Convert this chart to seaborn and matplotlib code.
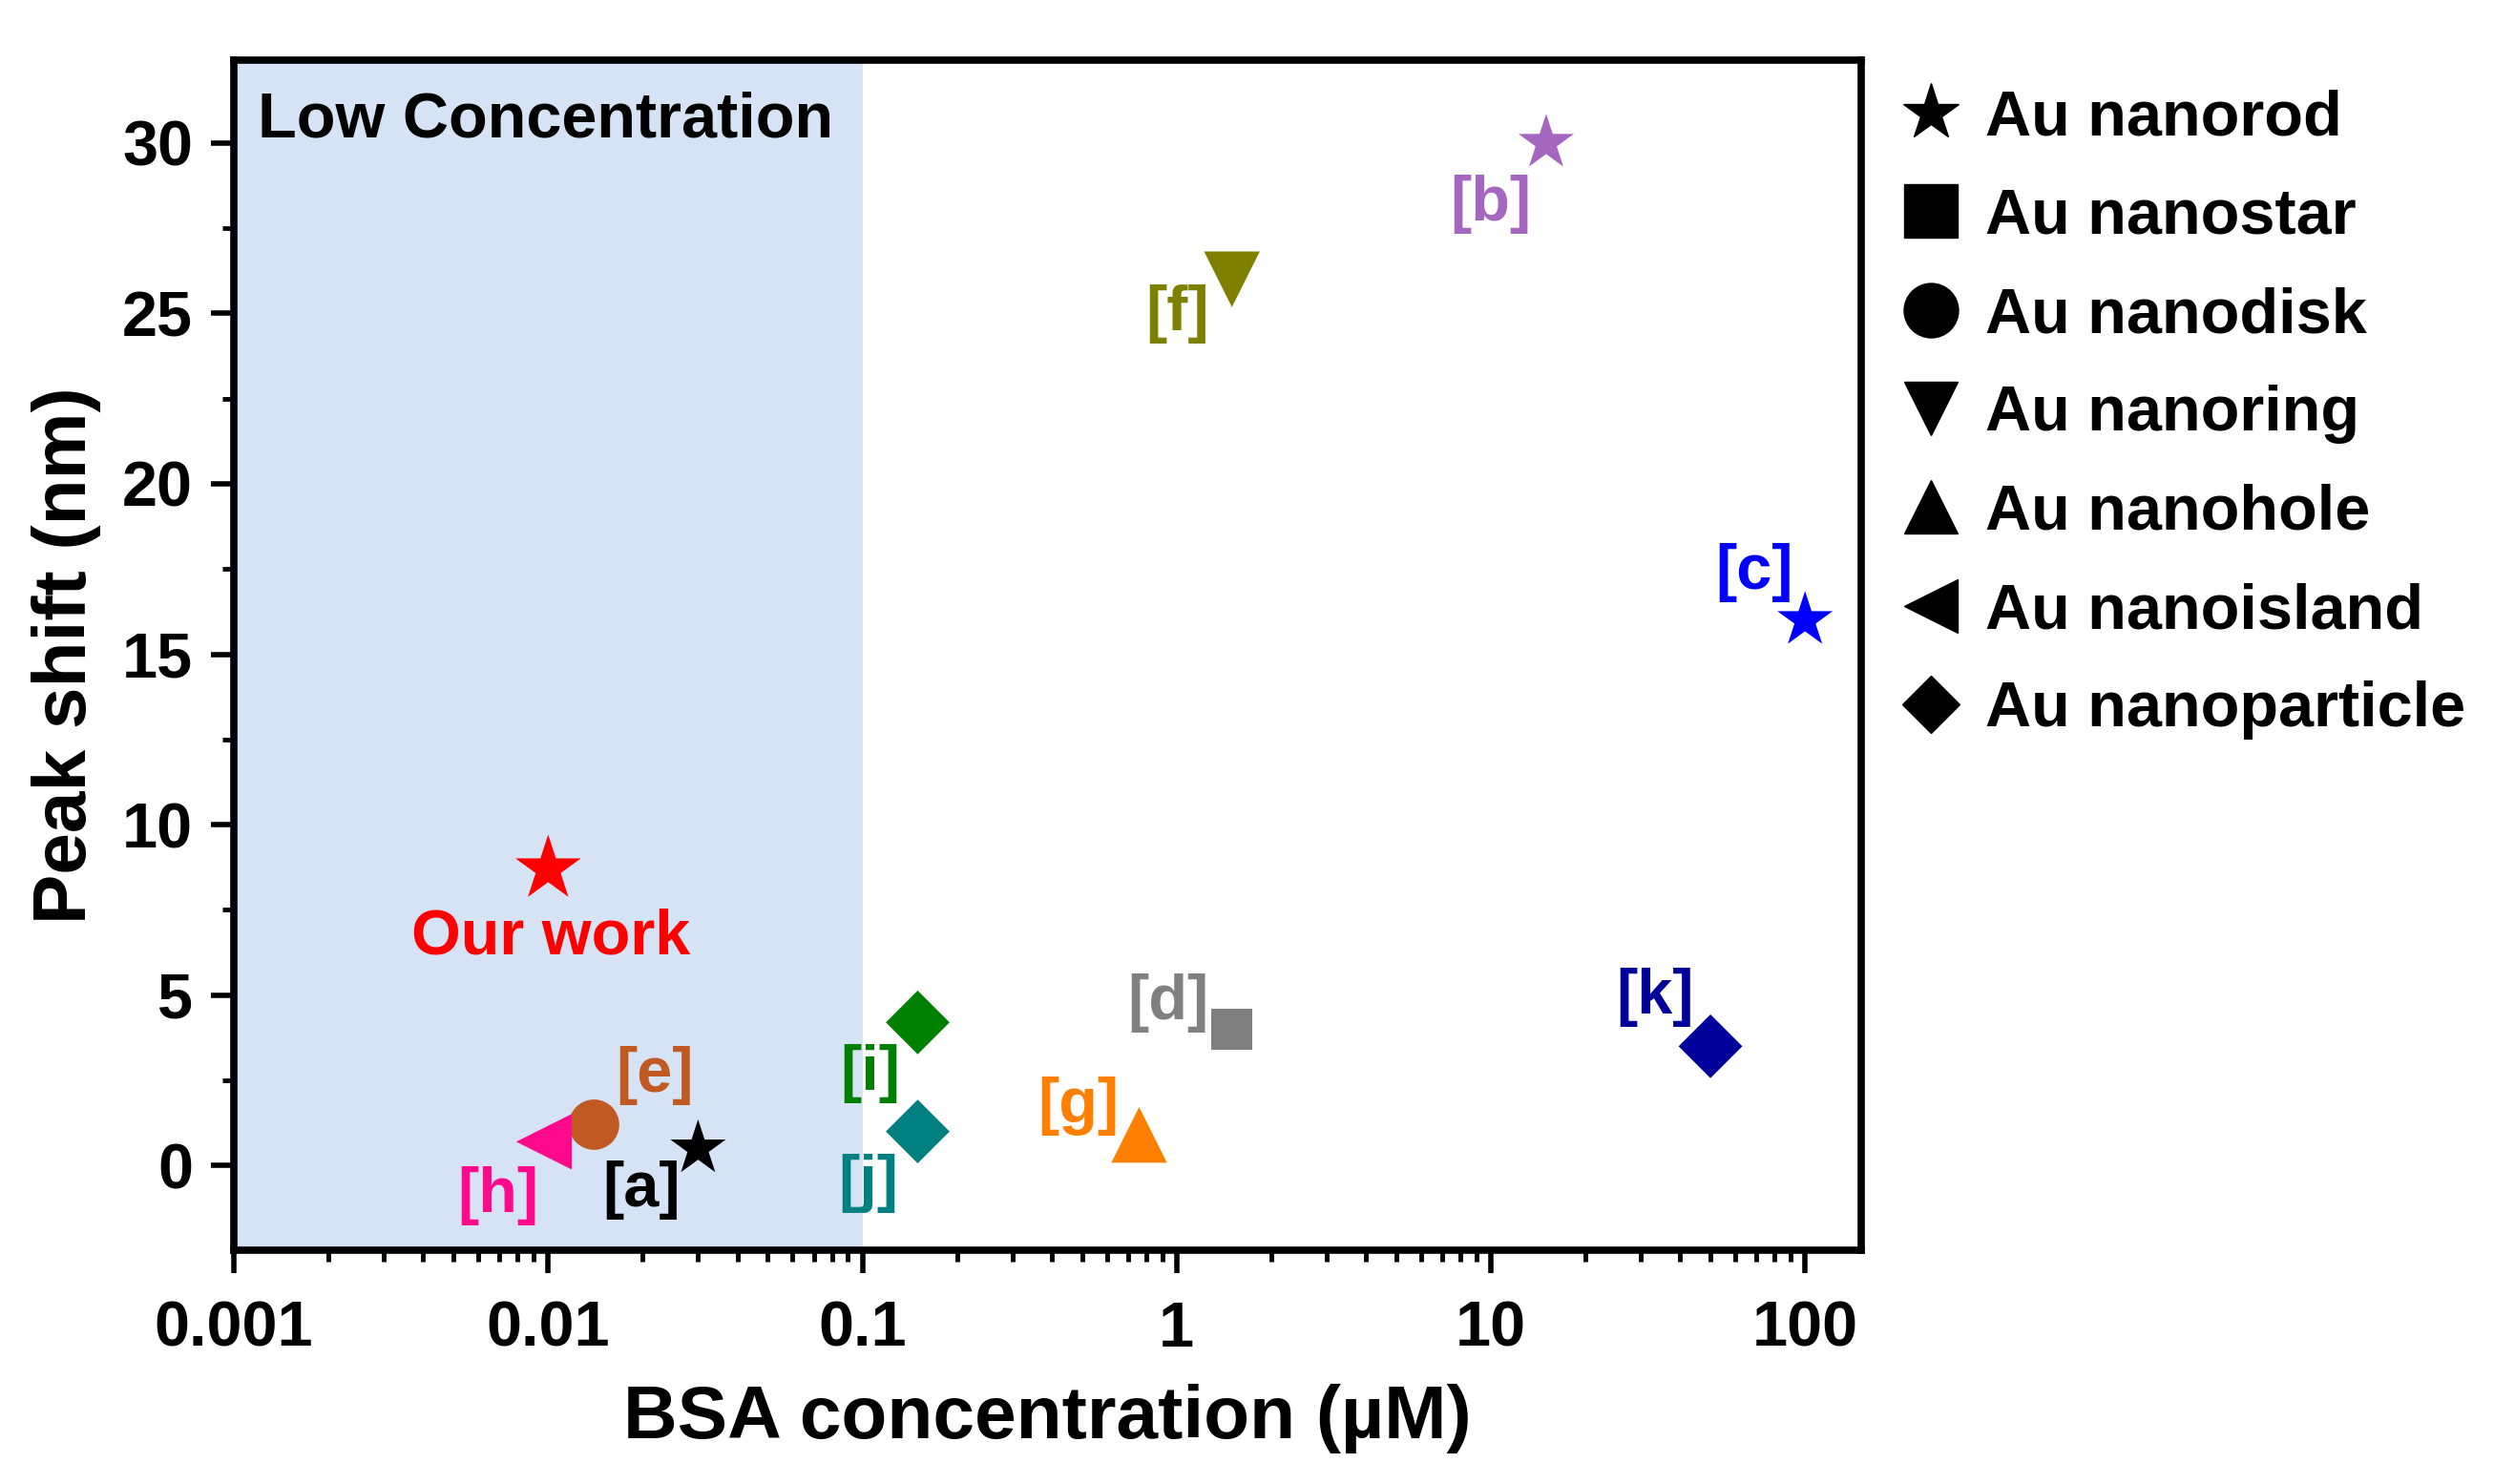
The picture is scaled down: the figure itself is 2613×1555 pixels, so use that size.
import matplotlib
matplotlib.use("Agg")
import matplotlib.pyplot as plt
import seaborn as sns
import pandas as pd
from matplotlib.lines import Line2D

# ---------------- data ----------------
refs = ["Our work", "[a]", "[b]", "[c]", "[d]", "[e]", "[f]", "[g]", "[h]", "[i]", "[j]", "[k]"]
shapes = ["Au nanorod", "Au nanorod", "Au nanorod", "Au nanorod", "Au nanostar",
          "Au nanodisk", "Au nanoring", "Au nanohole", "Au nanoisland",
          "Au nanoparticle", "Au nanoparticle", "Au nanoparticle"]
bsa_conc = [0.01, 0.03, 15, 100, 1.5, 0.014, 1.5, 0.76, 0.0097, 0.15, 0.15, 50]
peak_shift = [8.7, 0.5, 30.0, 16.0, 4.0, 1.2, 26.0, 0.9, 0.7, 4.2, 1.0, 3.5]
legend_shapes = ["Au nanorod", "Au nanostar", "Au nanodisk", "Au nanoring",
                 "Au nanohole", "Au nanoisland", "Au nanoparticle"]
x_ticks = [0.001, 0.01, 0.1, 1, 10, 100]
x_ticklabels = ["0.001", "0.01", "0.1", "1", "10", "100"]
y_ticks = [0, 5, 10, 15, 20, 25, 30]

# ---------------- styles ----------------
colors = {"Our work": "#FF0000", "[a]": "#000000", "[b]": "#A466BE", "[c]": "#0000FF",
          "[d]": "#808080", "[e]": "#C05A22", "[f]": "#808000", "[g]": "#FF8000",
          "[h]": "#FF0A8C", "[i]": "#008000", "[j]": "#008080", "[k]": "#00009A"}
markers = {"Au nanorod": "*", "Au nanostar": "s", "Au nanodisk": "o", "Au nanoring": "v",
           "Au nanohole": "^", "Au nanoisland": "<", "Au nanoparticle": "D"}
shape_ms = {"Au nanorod": 44, "Au nanostar": 31, "Au nanodisk": 38, "Au nanoring": 42,
            "Au nanohole": 42, "Au nanoisland": 42, "Au nanoparticle": 34}
legend_ms = {"Au nanorod": 44, "Au nanostar": 40, "Au nanodisk": 41, "Au nanoring": 40,
             "Au nanohole": 40, "Au nanoisland": 40, "Au nanoparticle": 31}
label_offsets = {"Our work": (2, -52), "[a]": (-43, -31), "[b]": (-42, -46), "[c]": (-38, 36),
                 "[d]": (-48, 20), "[e]": (46, 37), "[f]": (-41, -26), "[g]": (-46, 22),
                 "[h]": (-35, -41), "[i]": (-36, -39), "[j]": (-37, -39), "[k]": (-42, 37)}

sizes = {}
for r, s in zip(refs, shapes):
    ms = shape_ms[s]
    if r == "Our work":
        ms = 52
    sizes[r] = ms ** 2

df = pd.DataFrame({"ref": refs, "shape": shapes, "conc": bsa_conc, "shift": peak_shift})

sns.set_theme(style="ticks")
plt.rcParams["font.family"] = ["Liberation Sans", "DejaVu Sans"]
plt.rcParams["font.weight"] = "bold"
plt.rcParams["text.color"] = "black"
plt.rcParams["axes.labelcolor"] = "black"
plt.rcParams["xtick.color"] = "black"
plt.rcParams["ytick.color"] = "black"
plt.rcParams["axes.edgecolor"] = "black"

fig = plt.figure(figsize=(26.13, 15.55), dpi=100)
ax = fig.add_axes([0.0938, 0.1576, 0.6525, 0.8019])

ax.set_xscale("log")
ax.set_xlim(0.001, 151)
ax.set_ylim(-2.48, 32.43)

ax.axvspan(0.001, 0.1, color="#D5E3F4", zorder=0, lw=0)

sns.scatterplot(data=df, x="conc", y="shift", hue="ref", style="shape", size="ref",
                palette=colors, markers=markers, sizes=sizes, linewidth=0,
                legend=False, ax=ax, zorder=3)

for r, x, y in zip(refs, bsa_conc, peak_shift):
    dx, dy = label_offsets[r]
    ax.annotate(r, (x, y), xytext=(dx, dy), textcoords="offset points",
                ha="center", va="center", color=colors[r], fontsize=48,
                fontweight="bold", zorder=4)

ax.text(0.0147, 0.949, "Low Concentration", transform=ax.transAxes, ha="left",
        va="center", fontsize=48, fontweight="bold", color="black")

ax.set_xticks(x_ticks)
ax.set_xticklabels(x_ticklabels)
ax.set_yticks(y_ticks)
ax.yaxis.set_minor_locator(matplotlib.ticker.MultipleLocator(2.5))
ax.xaxis.set_minor_locator(matplotlib.ticker.LogLocator(base=10, subs=range(2, 10), numticks=20))
ax.xaxis.set_minor_formatter(matplotlib.ticker.NullFormatter())

ax.tick_params(axis="both", which="major", length=17, width=4, labelsize=48, color="black",
               labelcolor="black")
ax.tick_params(axis="both", which="minor", length=8.5, width=3.5, color="black")
ax.tick_params(axis="x", which="major", pad=21)
ax.tick_params(axis="y", which="major", pad=14)
for lab in ax.get_xticklabels() + ax.get_yticklabels():
    lab.set_fontweight("bold")

for sp in ax.spines.values():
    sp.set_linewidth(5.5)
    sp.set_color("black")
    sp.set_visible(True)

ax.set_xlabel("BSA concentration (µM)", fontsize=56.5, fontweight="bold", labelpad=18,
              color="black")
ax.set_ylabel("Peak shift (nm)", fontsize=56.5, fontweight="bold", labelpad=16,
              color="black")

handles = [Line2D([], [], marker=markers[s], color="black", linestyle="",
                  markersize=legend_ms[s]) for s in legend_shapes]
leg = ax.legend(handles, legend_shapes, loc="upper left", bbox_to_anchor=(1.002, 0.997),
                frameon=False, prop={"size": 48, "weight": "bold"}, handlelength=1.3,
                handletextpad=0.2, labelspacing=0.62, borderaxespad=0.0)
for t in leg.get_texts():
    t.set_color("black")

fig.savefig("out.png", dpi=100)
